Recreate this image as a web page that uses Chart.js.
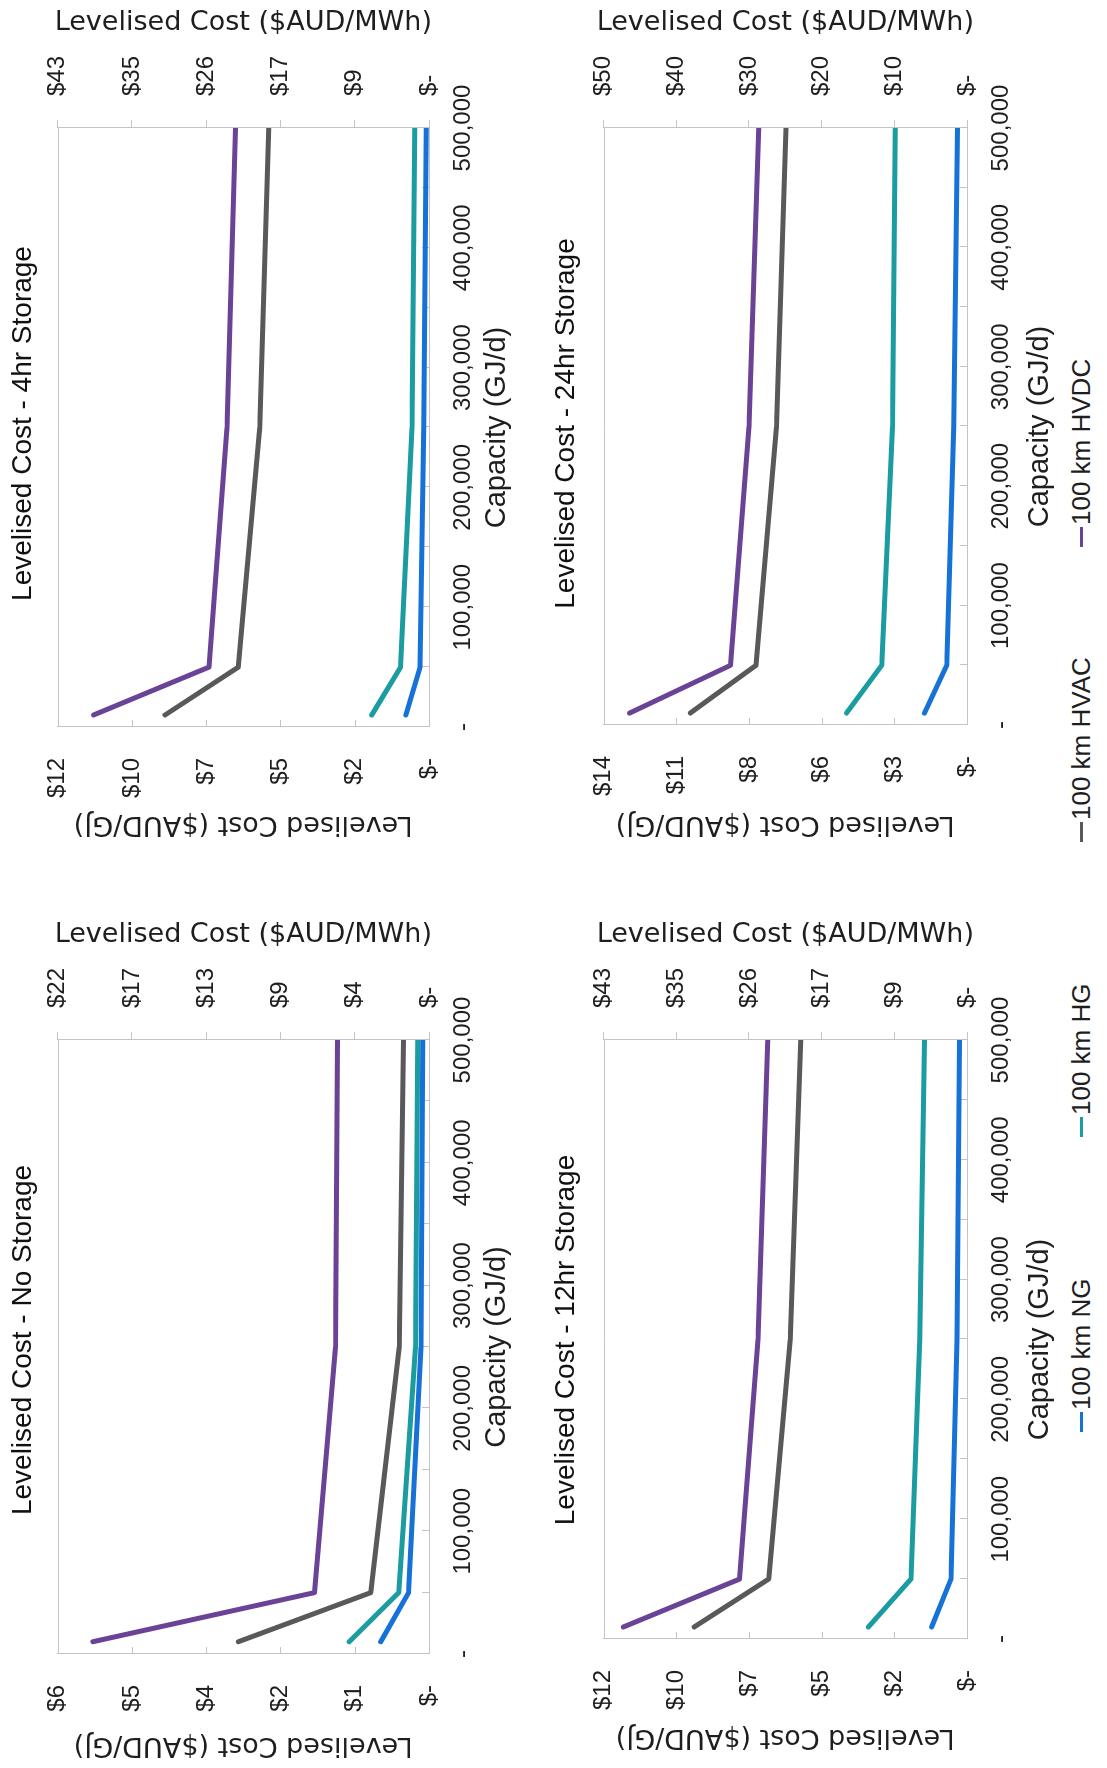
<!DOCTYPE html>
<html>
<head>
<meta charset="utf-8">
<title>Levelised Cost vs Capacity</title>
<script src="https://cdn.jsdelivr.net/npm/chart.js@4.4.0/dist/chart.umd.min.js"></script>
<style>
  html, body { margin: 0; padding: 0; background: #fff; overflow: hidden; }
  body { width: 1107px; height: 1768px; position: relative; }
  /* figure is laid out upright (1768 x 1107) and turned a quarter turn to the left */
  #figure { position: absolute; left: 0; top: 0; width: 1768px; height: 1107px;
            transform-origin: 0 0; transform: translateY(1768px) rotate(-90deg); }
  .panel { position: absolute; }
  #legend { position: absolute; left: 336px; top: 1066px; display: flex;
            font-family: "Liberation Sans", Arial, sans-serif;
            font-size: 26px; color: #1e1e1e; }
  #legend .item { width: 295px; display: flex; align-items: center; white-space: nowrap; }
  #legend .swatch { display: inline-block; width: 20px; height: 3px; margin-right: 2px; }
</style>
</head>
<body>
<div id="figure">
  <canvas id="noStorage" class="panel" width="856" height="514" style="left:0;top:0"></canvas>
  <canvas id="storage4" class="panel" width="847" height="514" style="left:921px;top:0"></canvas>
  <canvas id="storage12" class="panel" width="856" height="514" style="left:0;top:543px"></canvas>
  <canvas id="storage24" class="panel" width="847" height="514" style="left:921px;top:543px"></canvas>
  <div id="legend"></div>
</div>
<script>
var capacity = [10000, 50000, 250000, 500000];
var seriesNames = ["100 km NG", "100 km HG", "100 km HVAC", "100 km HVDC"];
var seriesColors = ["#1672d6", "#1a9ca1", "#59595c", "#6a4396"];

// $AUD/GJ
var noStorageNG = [0.78, 0.33, 0.13, 0.10];
var noStorageHG = [1.29, 0.49, 0.22, 0.18];
var noStorageHVAC = [3.08, 0.94, 0.48, 0.41];
var noStorageHVDC = [5.43, 1.85, 1.51, 1.48];

var storage4NG = [0.75, 0.29, 0.17, 0.09];
var storage4HG = [1.85, 0.92, 0.55, 0.46];
var storage4HVAC = [8.53, 6.16, 5.47, 5.18];
var storage4HVDC = [10.84, 7.11, 6.53, 6.25];

var storage12NG = [1.17, 0.53, 0.33, 0.25];
var storage12HG = [3.26, 1.85, 1.56, 1.40];
var storage12HVAC = [9.01, 6.55, 5.84, 5.49];
var storage12HVDC = [11.35, 7.51, 6.90, 6.58];

var storage24NG = [1.64, 0.78, 0.51, 0.37];
var storage24HG = [4.64, 3.28, 2.87, 2.76];
var storage24HVAC = [10.66, 8.13, 7.34, 6.97];
var storage24HVDC = [13.0, 9.11, 8.40, 8.02];

var gjAxisMax = [6, 12, 12, 14];
var mwhPerGj = 3.6;

var sansFont = "'Liberation Sans', Arial, sans-serif";
var wideFont = "'DejaVu Sans', sans-serif";
var lineGrey = "#c4c4c4";
var textColor = "#1e1e1e";

Chart.defaults.font.family = sansFont;
Chart.defaults.color = textColor;

function fmtDollar(v) {
  var r = Math.round(v);
  return r === 0 ? "$-" : "$" + r;
}

// top border plus the short inward tick marks on the left and bottom axes
var boxTicks = {
  id: "boxTicks",
  beforeDatasetsDraw: function (chart) {
    var ctx = chart.ctx, a = chart.chartArea, sx = chart.scales.x, sy = chart.scales.y;
    ctx.save();
    ctx.strokeStyle = lineGrey;
    ctx.lineWidth = 1;
    ctx.beginPath();
    ctx.moveTo(a.left, Math.round(a.top) + 0.5);
    ctx.lineTo(a.right, Math.round(a.top) + 0.5);
    sx.ticks.forEach(function (t) {
      var px = Math.round(sx.getPixelForValue(t.value)) + 0.5;
      ctx.moveTo(px, a.bottom);
      ctx.lineTo(px, a.bottom - 7);
    });
    sy.ticks.forEach(function (t) {
      var py = Math.round(sy.getPixelForValue(t.value)) + 0.5;
      ctx.moveTo(a.left, py);
      ctx.lineTo(a.left + 7, py);
    });
    ctx.stroke();
    ctx.restore();
  }
};

function makePanel(canvasId, title, gjMax, series, box) {
  return new Chart(canvasId, {
    type: "line",
    data: {
      datasets: series.map(function (vals, i) {
        return {
          label: seriesNames[i],
          data: capacity.map(function (c, j) { return { x: c, y: vals[j] }; }),
          borderColor: seriesColors[i],
          backgroundColor: seriesColors[i],
          borderWidth: 5,
          pointRadius: 0,
          tension: 0,
          borderCapStyle: "round",
          borderJoinStyle: "round"
        };
      })
    },
    options: {
      responsive: false,
      animation: false,
      layout: { padding: 0, autoPadding: false },
      plugins: {
        legend: { display: false },
        tooltip: { enabled: false },
        title: {
          display: true, text: title, color: "#111",
          font: { size: 28, weight: "normal" },
          padding: { top: 6, bottom: box.titleGap }
        }
      },
      scales: {
        x: {
          type: "linear", min: 0, max: 500000,
          afterFit: function (s) { s.height = box.xHeight; },
          ticks: {
            stepSize: 50000, autoSkip: false, maxRotation: 0, padding: 20,
            font: { size: 24 },
            callback: function (v) {
              if (v === 0) return "-";
              return v % 100000 === 0 ? v.toLocaleString("en-US") : "";
            }
          },
          grid: { drawOnChartArea: false, drawTicks: false },
          border: { color: lineGrey },
          title: { display: true, text: "Capacity (GJ/d)", font: { size: 29 }, padding: { top: 0, bottom: 0 } }
        },
        y: {
          position: "left", min: 0, max: gjMax,
          afterFit: function (s) { s.width = box.yWidth; },
          ticks: { stepSize: gjMax / 5, padding: 31, font: { size: 24 }, callback: fmtDollar },
          grid: { drawOnChartArea: false, drawTicks: false },
          border: { color: lineGrey },
          title: { display: true, text: "Levelised Cost ($AUD/GJ)", font: { family: wideFont, size: 27 }, padding: { top: box.yTitlePad, bottom: 0 } }
        },
        y2: {
          position: "right", min: 0, max: gjMax * mwhPerGj,
          afterFit: function (s) { s.width = box.y2Width; },
          ticks: { stepSize: gjMax * mwhPerGj / 5, padding: 24, font: { size: 24 }, callback: fmtDollar },
          grid: { drawOnChartArea: false, drawTicks: true, tickLength: 8, color: lineGrey },
          border: { color: lineGrey },
          title: { display: true, text: "Levelised Cost ($AUD/MWh)", font: { family: wideFont, size: 27 }, padding: { top: 7, bottom: 0 } }
        }
      }
    },
    plugins: [boxTicks]
  });
}

makePanel("noStorage", "Levelised Cost - No Storage", gjAxisMax[0],
  [noStorageNG, noStorageHG, noStorageHVAC, noStorageHVDC],
  { yWidth: 114, y2Width: 128, yTitlePad: 7, titleGap: 18, xHeight: 85 });
makePanel("storage4", "Levelised Cost - 4hr Storage", gjAxisMax[1],
  [storage4NG, storage4HG, storage4HVAC, storage4HVDC],
  { yWidth: 120, y2Width: 128, yTitlePad: 7, titleGap: 18, xHeight: 85 });
makePanel("storage12", "Levelised Cost - 12hr Storage", gjAxisMax[2],
  [storage12NG, storage12HG, storage12HVAC, storage12HVDC],
  { yWidth: 129, y2Width: 128, yTitlePad: 15, titleGap: 21, xHeight: 90 });
makePanel("storage24", "Levelised Cost - 24hr Storage", gjAxisMax[3],
  [storage24NG, storage24HG, storage24HVAC, storage24HVDC],
  { yWidth: 122, y2Width: 128, yTitlePad: 7, titleGap: 21, xHeight: 90 });

var legend = document.getElementById("legend");
seriesNames.forEach(function (name, i) {
  var item = document.createElement("div");
  item.className = "item";
  var sw = document.createElement("span");
  sw.className = "swatch";
  sw.style.background = seriesColors[i];
  item.appendChild(sw);
  item.appendChild(document.createTextNode(name));
  legend.appendChild(item);
});
</script>
</body>
</html>
